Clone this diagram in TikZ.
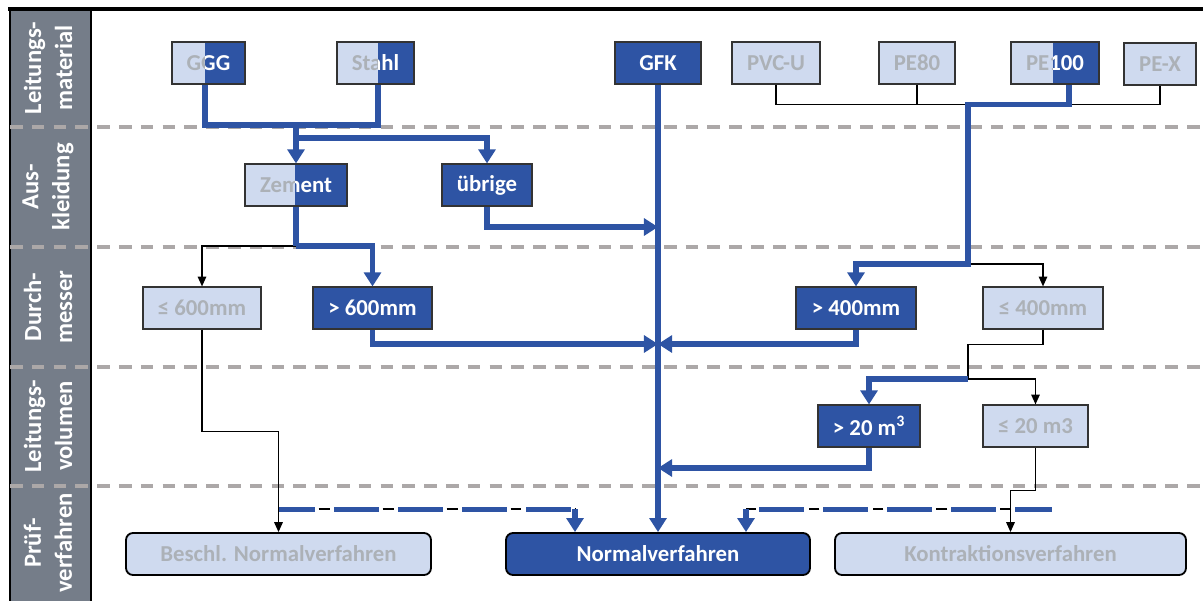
\documentclass[tikz,border=0pt]{standalone}
\usepackage{fontspec}
\setmainfont{Carlito}
\definecolor{PipeBlue}{RGB}{46, 84, 164}
\definecolor{PaleBlue}{RGB}{207, 218, 239}
\definecolor{FadedGrey}{RGB}{172, 177, 183}
\definecolor{BarGrey}{RGB}{117, 125, 137}
\definecolor{LaneGrey}{RGB}{172, 168, 168}
\usetikzlibrary{arrows.meta, calc}

% box with a pale left part and a blue right part (split at x = #5)
\newcommand{\halfnode}[6]{%
  \node[palebox, wd=#4] (#1) at (#2,#3) {#6};
  \begin{scope}
    \clip (#5,#3-30) rectangle (#2+#4,#3+30);
    \node[bluebox, wd=#4] at (#1) {#6};
  \end{scope}
}

\begin{document}
\begin{tikzpicture}[x=0.025cm, y=-0.025cm,
    box/.style={draw=black!80, line width=0.8pt, minimum height=1.05cm, inner sep=0pt,
                font=\fontsize{16.2}{19}\selectfont\bfseries},
    palebox/.style={box, fill=PaleBlue, text=FadedGrey},
    bluebox/.style={box, fill=PipeBlue, text=white},
    wd/.style={minimum width=#1*0.025cm},
    endbox/.style={rounded corners=5pt, draw=black, line width=1.3pt},
    pipe/.style={PipeBlue, line width=3.6pt},
    pipearrow/.style={pipe, -{Triangle[width=12pt,length=10pt]}},
    thin/.style={black, line width=1.1pt},
    thinarrow/.style={thin, -{Triangle[width=6pt,length=7pt]}},
    altpipe/.style={pipe, dash pattern=on 32pt off 13.5pt, dash phase=5.7pt},
    altthin/.style={thin, dash pattern=on 7.8pt off 37.7pt, dash phase=17pt},
    lane/.style={LaneGrey, line width=2.2pt, dash pattern=on 9pt off 6.5pt},
    barlabel/.style={white, rotate=90, align=center, font=\fontsize{17.5}{22}\selectfont\bfseries}]
    \useasboundingbox (0,0) rectangle (1203,601);

    % left bar with the criteria
    \fill[BarGrey] (10,9) rectangle (91,601);
    \draw[line width=2.2pt] (8,9) -- (1203,9);
    \draw[line width=2pt] (10,9) -- (10,601);
    \draw[line width=2pt] (91,9) -- (91,601);
    \foreach \n/\yc/\txt in {1/68/{Leitungs-\\material}, 2/187/{Aus-\\kleidung},
                             3/307/{Durch-\\messer}, 4/426/{Leitungs-\\volumen},
                             5/543/{Prüf-\\verfahren}}
        \node[barlabel] (crit\n) at (48,\yc) {\txt};

    % lanes
    \foreach \y in {127,247,367,486}
        \draw[lane] (10,\y) -- (1203,\y);

    % Leitungsmaterial
    \halfnode{ggg}{208.5}{63}{73}{205}{GGG}
    \halfnode{stahl}{375.5}{63}{77}{378}{Stahl}
    \node[bluebox, wd=86] (gfk) at (658,63) {GFK};
    \node[palebox, wd=88] (pvcu) at (776,63) {PVC-U};
    \node[palebox, wd=76] (pe80) at (917,63) {PE80};
    \halfnode{pe100}{1055}{63}{88}{1053}{PE100}
    \node[palebox, wd=72] (pex) at (1160,64) {PE-X};

    % Auskleidung
    \halfnode{zement}{296}{185}{102}{295}{Zement}
    \node[bluebox, wd=90] (uebrige) at (487,185) {übrige};

    % Durchmesser
    \node[palebox, wd=118] (le600) at (202,308) {≤ 600mm};
    \node[bluebox, wd=119] (gt600) at (372.5,308) {> 600mm};
    \node[bluebox, wd=120] (gt400) at (856,308) {> 400mm};
    \node[palebox, wd=120] (le400) at (1043,308) {≤ 400mm};

    % Leitungsvolumen
    \node[bluebox, wd=102] (gt20) at (869,426) {> 20 m\textsuperscript{3}};
    \node[palebox, wd=105] (le20) at (1035.5,426) {≤ 20 m3};

    % Pruefverfahren
    \node[palebox, endbox, wd=305] (beschl) at (278.5,554) {Beschl. Normalverfahren};
    \node[bluebox, endbox, wd=304] (normal) at (658,554) {Normalverfahren};
    \node[palebox, endbox, wd=351] (kontra) at (1010.5,554) {Kontraktionsverfahren};

    % junctions
    \coordinate (metal) at (296,125);
    \coordinate (lining) at (296,246);
    \coordinate (plastic) at (968,264);
    \coordinate (smalldn) at (968,379);
    \coordinate (inA) at (658,227);
    \coordinate (inB) at (658,344);
    \coordinate (inC) at (658,468);

    % black paths
    \draw[thin] (pvcu.south) -- ++(0,20) -| (pex.south);
    \draw[thin] (pe80.south) -- ++(0,20);
    \draw[thinarrow] (plastic) -| (le400.north);
    \draw[thin] (le400.south) -- ++(0,15) -| (smalldn);
    \draw[thinarrow] (smalldn) -| (le20.north);
    \draw[thinarrow] (le20.south) -- ++(0,43) -| (kontra.north);
    \draw[thinarrow] (lining) -| (le600.north);
    \draw[thinarrow] (le600.south) -- ++(0,102) -| (beschl.north);

    % blue paths
    \draw[pipe] ($(ggg.south)+(-3.5,0)$) |- (metal) -| ($(stahl.south)+(2.5,0)$);
    \draw[pipearrow] (metal) -- (zement.north);
    \draw[pipearrow] ($(metal)+(0,13)$) -| (uebrige.north);
    \draw[pipearrow] (uebrige.south) |- (inA);
    \draw[pipe] (zement.south) -- (lining);
    \draw[pipearrow] (lining) -| (gt600.north);
    \draw[pipearrow] (gt600.south) |- (inB);
    \draw[pipearrow] ($(pe100.south)+(14,0)$) -- ++(0,20) -| (plastic) -| (gt400.north);
    \draw[pipearrow] (gt400.south) |- (inB);
    \draw[pipearrow] (smalldn) -| (gt20.north);
    \draw[pipearrow] (gt20.south) |- (inC);
    \draw[pipearrow] (gfk.south) -- (normal.north);

    % alternative (dashed) paths
    \draw[altthin] ($(beschl.north)+(0,-23)$) -- ($(normal.north)+(-83,-23)$);
    \draw[altpipe] ($(beschl.north)+(0,-23)$) -- ($(normal.north)+(-83,-23)$);
    \draw[pipearrow] ($(normal.north)+(-83,-23)$) -- ($(normal.north)+(-83,0)$);
    \draw[altthin] ($(kontra.north)+(41,-23)$) -- ($(normal.north)+(88,-23)$);
    \draw[altpipe] ($(kontra.north)+(41,-23)$) -- ($(normal.north)+(88,-23)$);
    \draw[pipearrow] ($(normal.north)+(88,-23)$) -- ($(normal.north)+(88,0)$);
\end{tikzpicture}
\end{document}
